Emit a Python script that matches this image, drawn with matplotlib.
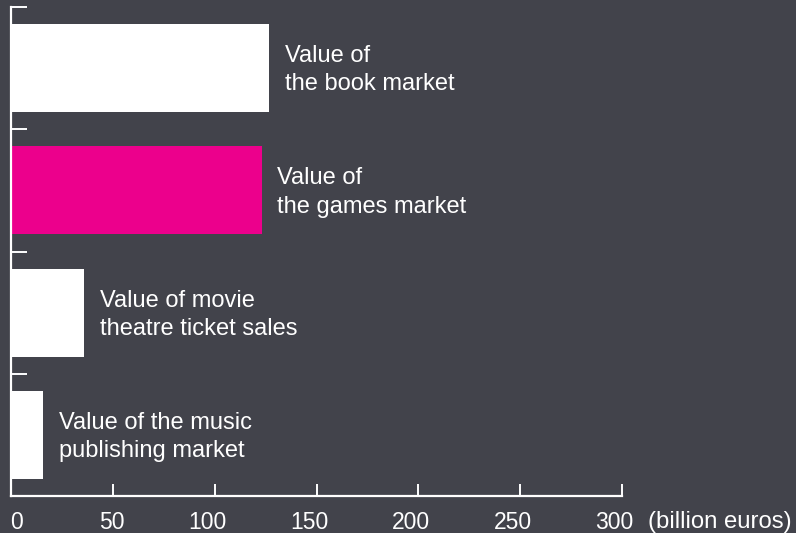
import matplotlib
matplotlib.use("Agg")
import matplotlib.pyplot as plt
import matplotlib.transforms as mtransforms

# data
labels = [
    "Value of\nthe book market",
    "Value of\nthe games market",
    "Value of movie\ntheatre ticket sales",
    "Value of the music\npublishing market",
]
values = [126.5, 123.0, 35.8, 15.5]
highlight = [False, True, False, False]
x_ticks = [0, 50, 100, 150, 200, 250, 300]
unit_label = "(billion euros)"

BG = "#42434b"
INK = "white"
PINK = "#ec008c"
TICK_PAD = 10.5

plt.rcParams["font.family"] = ["Liberation Sans", "DejaVu Sans"]

fig = plt.figure(figsize=(7.96, 5.33), dpi=100, facecolor=BG)
ax = fig.add_axes([11 / 796, 37 / 533, 611 / 796, 489 / 533])
ax.set_facecolor(BG)

ypos = [i + 0.5 for i in range(len(values))]
colours = [PINK if h else INK for h in highlight]
ax.barh(ypos, values, height=0.72, color=colours, linewidth=0)

for y, v, lab in zip(ypos, values, labels):
    ax.annotate(lab, xy=(v, y), xytext=(11.5, -1.5), textcoords="offset points",
                va="center", ha="left", fontsize=17, color=INK,
                linespacing=1.36, annotation_clip=False)

ax.set_xlim(0, 300)
ax.set_ylim(len(values), 0)

ax.set_xticks(x_ticks)
ax.set_xticklabels([str(t) for t in x_ticks])
ax.set_yticks(range(len(values) + 1))
ax.set_yticklabels([])

ax.tick_params(axis="x", direction="in", length=9, width=1.4, colors=INK,
               labelsize=16.5, pad=TICK_PAD)
ax.tick_params(axis="y", direction="in", length=11.5, width=1.4, colors=INK)

# in the original the numbers end a little right of their tick
shift = mtransforms.ScaledTranslation(11.5 / 100, 0, fig.dpi_scale_trans)
for lab in ax.get_xticklabels():
    lab.set_horizontalalignment("right")
    lab.set_transform(lab.get_transform() + shift)

for side in ["top", "right"]:
    ax.spines[side].set_visible(False)
for side in ["left", "bottom"]:
    ax.spines[side].set_color(INK)
    ax.spines[side].set_linewidth(1.6)

# unit sits on the tick-label row, right of the last tick
ax.annotate(unit_label, xy=(1, 0), xycoords="axes fraction",
            xytext=(18.5, -TICK_PAD), textcoords="offset points",
            ha="left", va="top", fontsize=17.2, color=INK,
            annotation_clip=False)

fig.savefig("out.png", dpi=100, facecolor=BG)
